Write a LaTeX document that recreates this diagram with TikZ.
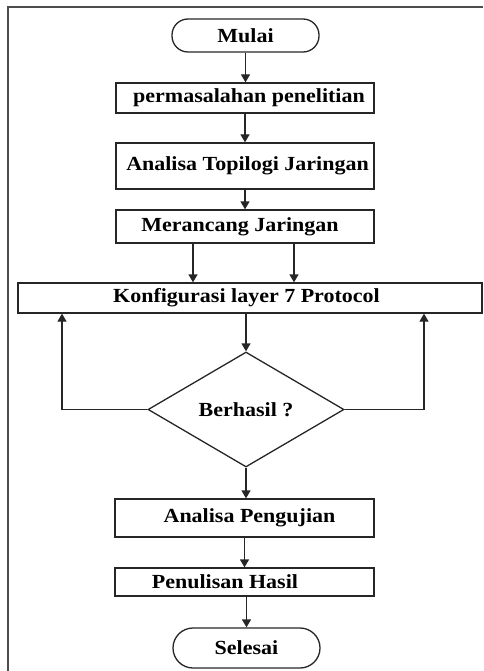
\documentclass[tikz,border=0pt]{standalone}
\usepackage{fontspec}
\setmainfont{Liberation Serif}[FakeStretch=1.1]
\usetikzlibrary{arrows.meta,shapes.geometric}
\begin{document}
\begin{tikzpicture}[x=1pt,y=-1pt,
  box/.style={draw=black!85, line width=1.3pt, rectangle, inner sep=0pt,
    font=\fontsize{20}{23}\selectfont\bfseries},
  term/.style={box},
  decision/.style={box, diamond},
  arr/.style={-{Triangle[length=8pt,width=9pt]}, line width=1.3pt, draw=black!85},
  frame/.style={line width=1.8pt, draw=black!70}
]
\useasboundingbox (0,0) rectangle (483,671);
\draw[frame] (8,671) -- (8,7) -- (483,7);

\node[term, minimum width=147pt, minimum height=33pt, rounded corners=16pt] (mulai) at (245.5,35.5) {Mulai};
\node[box, minimum width=258pt, minimum height=30pt] (perm) at (245,98) {\hspace*{8pt}permasalahan penelitian};
\node[box, minimum width=258pt, minimum height=46pt] (topo) at (245,166) {\hspace*{5pt}Analisa Topilogi Jaringan};
\node[box, minimum width=258pt, minimum height=33pt] (meran) at (245,226.5) {Merancang Jaringan\hspace*{10pt}};
\node[box, minimum width=464pt, minimum height=30pt] (konf) at (250,298) {Konfigurasi layer 7 Protocol\hspace*{7pt}};
\node[decision, minimum width=196pt, minimum height=115pt] (dec) at (246,409.5) {Berhasil ?};
\node[box, minimum width=259pt, minimum height=38pt] (peng) at (244.5,518) {\hspace*{10pt}Analisa Pengujian};
\node[box, minimum width=259pt, minimum height=28pt] (penul) at (244.5,582) {Penulisan Hasil\hspace*{39pt}};
\node[term, minimum width=147pt, minimum height=40pt, rounded corners=20pt] (sel) at (246.5,648) {Selesai};

\coordinate (a1) at (193,0);
\coordinate (a2) at (294,0);
\coordinate (lx) at (62,0);
\coordinate (rx) at (424,0);

\draw[arr] (mulai.south) -- (mulai.south |- perm.north);
\draw[arr] (perm.south) -- (perm.south |- topo.north);
\draw[arr] (topo.south) -- (topo.south |- meran.north);
\draw[arr] (meran.south -| a1) -- (konf.north -| a1);
\draw[arr] (meran.south -| a2) -- (konf.north -| a2);
\draw[arr] (konf.south -| dec.north) -- (dec.north);
\draw[arr] (dec.west) -| (konf.south -| lx);
\draw[arr] (dec.east) -| (konf.south -| rx);
\draw[arr] (dec.south) -- (dec.south |- peng.north);
\draw[arr] (peng.south) -- (peng.south |- penul.north);
\draw[arr] (penul.south -| sel.north) -- (sel.north);
\end{tikzpicture}
\end{document}
